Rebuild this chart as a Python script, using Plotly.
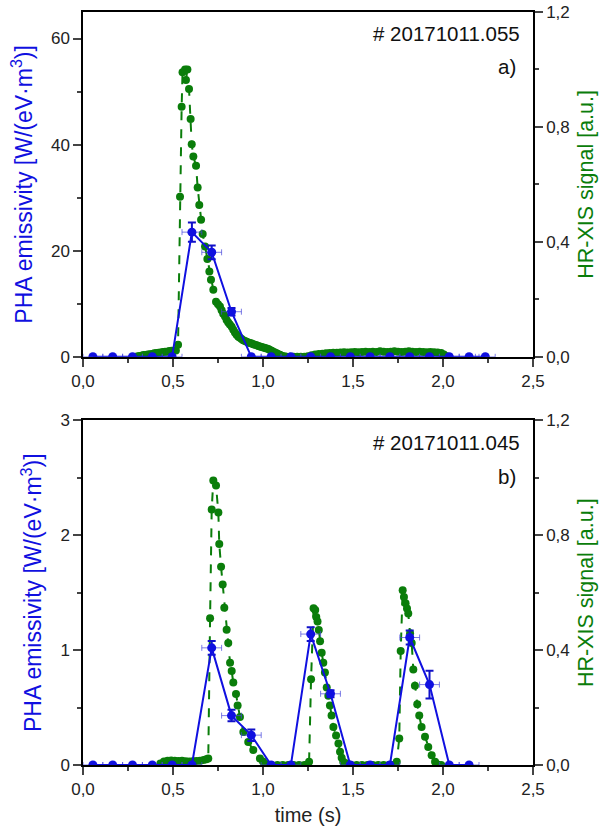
import plotly.graph_objects as go

# ---------------- data: panel a) #20171011.055 ----------------
pha_a_t = [0.055, 0.165, 0.275, 0.385, 0.495, 0.605, 0.715, 0.825, 0.935, 1.045,
           1.155, 1.265, 1.375, 1.485, 1.595, 1.705, 1.815, 1.925, 2.035, 2.145, 2.235]
pha_a_v = [0, 0, 0, 0, 0, 23.5, 19.7, 8.5, 0, 0,
           0, 0, 0, 0, 0, 0, 0, 0, 0, 0, 0]
pha_a_err = [0, 0, 0, 0, 0, 1.8, 1.3, 0.7, 0, 0,
             0, 0, 0, 0, 0, 0, 0, 0, 0, 0, 0]

xis_a_t = [0.300, 0.312, 0.324, 0.336, 0.348, 0.360, 0.372, 0.384, 0.396, 0.408,
           0.420, 0.432, 0.444, 0.456, 0.468, 0.480, 0.492, 0.504, 0.516, 0.528,
           0.539, 0.548, 0.553, 0.567, 0.580, 0.572, 0.589, 0.598, 0.604, 0.613,
           0.628, 0.637, 0.646, 0.656, 0.665, 0.678, 0.691, 0.702, 0.711, 0.724,
           0.739, 0.750, 0.761, 0.770, 0.779, 0.789, 0.798, 0.807, 0.816, 0.826,
           0.835, 0.844, 0.853, 0.863, 0.872, 0.881, 0.890, 0.900, 0.909, 0.918,
           0.928, 0.937, 0.946, 0.955, 0.965, 0.974, 0.983, 0.992, 1.002, 1.011,
           1.020, 1.030, 1.039, 1.048, 1.057, 1.066, 1.076, 1.085, 1.094, 1.103,
           1.113, 1.122, 1.131, 1.150, 1.170, 1.190, 1.210, 1.230, 1.250, 1.270,
           1.290, 1.310, 1.330, 1.350, 1.370, 1.390, 1.410, 1.430, 1.450, 1.470,
           1.490, 1.510, 1.530, 1.550, 1.570, 1.590, 1.610, 1.630, 1.650, 1.670,
           1.690, 1.710, 1.730, 1.750, 1.770, 1.790, 1.810, 1.830, 1.850, 1.870,
           1.890, 1.910, 1.930, 1.950, 1.970, 1.990, 2.005, 2.020]
xis_a_v = [0.001, 0.003, 0.004, 0.006, 0.006, 0.008, 0.009, 0.010, 0.012, 0.013,
           0.014, 0.015, 0.017, 0.018, 0.018, 0.020, 0.021, 0.021, 0.022, 0.042,
           0.557, 0.870, 0.990, 1.000, 1.000, 0.963, 0.932, 0.828, 0.740, 0.697,
           0.665, 0.589, 0.528, 0.477, 0.427, 0.384, 0.340, 0.297, 0.268, 0.233,
           0.192, 0.183, 0.175, 0.162, 0.150, 0.140, 0.128, 0.119, 0.112, 0.105,
           0.094, 0.085, 0.077, 0.070, 0.066, 0.062, 0.058, 0.055, 0.052, 0.050,
           0.048, 0.046, 0.044, 0.042, 0.040, 0.038, 0.036, 0.034, 0.032, 0.031,
           0.029, 0.027, 0.024, 0.021, 0.018, 0.015, 0.012, 0.009, 0.007, 0.004,
           0.002, 0.001, 0.000, 0.000, 0.000, 0.000, 0.000, 0.000, 0.002, 0.005,
           0.008, 0.010, 0.011, 0.012, 0.013, 0.014, 0.014, 0.015, 0.016, 0.015,
           0.016, 0.017, 0.016, 0.017, 0.018, 0.017, 0.018, 0.017, 0.019, 0.018,
           0.017, 0.018, 0.019, 0.018, 0.017, 0.018, 0.019, 0.018, 0.017, 0.018,
           0.017, 0.016, 0.017, 0.016, 0.015, 0.013, 0.008, 0.002]

# ---------------- data: panel b) #20171011.045 ----------------
pha_b_t = [0.055, 0.165, 0.275, 0.385, 0.495, 0.605, 0.715, 0.825, 0.935, 1.045,
           1.155, 1.265, 1.375, 1.485, 1.595, 1.705, 1.815, 1.925, 2.035, 2.145]
pha_b_v = [0, 0, 0, 0, 0, 0, 1.02, 0.43, 0.26, 0,
           0, 1.14, 0.62, 0, 0, 0, 1.11, 0.70, 0, 0]
pha_b_err = [0, 0, 0, 0, 0, 0, 0.06, 0.05, 0.05, 0,
             0, 0.06, 0.03, 0, 0, 0, 0.06, 0.12, 0, 0]

xis_b_t = [0.430, 0.450, 0.470, 0.490, 0.510, 0.530, 0.550, 0.570, 0.590, 0.610,
           0.630, 0.650, 0.670, 0.685, 0.696, 0.706, 0.715, 0.724, 0.739, 0.752,
           0.757, 0.767, 0.776, 0.785, 0.798, 0.807, 0.817, 0.826, 0.835, 0.850,
           0.859, 0.872, 0.891, 0.918, 0.946, 0.983, 1.000, 1.020, 1.048, 1.080,
           1.110, 1.140, 1.170, 1.200, 1.230, 1.245, 1.256, 1.267, 1.281, 1.290,
           1.296, 1.303, 1.310, 1.317, 1.326, 1.335, 1.344, 1.354, 1.363, 1.372,
           1.381, 1.391, 1.406, 1.419, 1.428, 1.437, 1.446, 1.460, 1.474, 1.490,
           1.520, 1.550, 1.580, 1.610, 1.640, 1.670, 1.700, 1.720, 1.743, 1.757,
           1.765, 1.776, 1.783, 1.792, 1.800, 1.807, 1.817, 1.826, 1.835, 1.844,
           1.857, 1.868, 1.881, 1.900, 1.918, 1.937, 1.956, 1.970, 1.990]
xis_b_v = [0.005, 0.012, 0.015, 0.016, 0.015, 0.014, 0.015, 0.013, 0.012, 0.013,
           0.014, 0.015, 0.017, 0.020, 0.023, 0.511, 0.890, 0.991, 0.973, 0.879,
           0.770, 0.690, 0.629, 0.548, 0.471, 0.425, 0.356, 0.327, 0.287, 0.247,
           0.207, 0.167, 0.115, 0.080, 0.052, 0.023, 0.012, 0.003, 0.000, 0.000,
           0.000, 0.000, 0.000, 0.000, 0.000, 0.000, 0.011, 0.299, 0.546, 0.540,
           0.515, 0.500, 0.470, 0.431, 0.391, 0.356, 0.322, 0.270, 0.241, 0.207,
           0.172, 0.132, 0.103, 0.075, 0.046, 0.025, 0.011, 0.006, 0.003, 0.000,
           0.000, 0.000, 0.000, 0.000, 0.000, 0.000, 0.000, 0.000, 0.011, 0.092,
           0.397, 0.609, 0.585, 0.563, 0.545, 0.528, 0.459, 0.425, 0.333, 0.276,
           0.212, 0.172, 0.132, 0.098, 0.063, 0.034, 0.011, 0.002, 0.000]

time_err = 0.055  # horizontal error bar half-width (s)

x_ticks = [0.0, 0.5, 1.0, 1.5, 2.0, 2.5]
x_ticktext = ["0,0", "0,5", "1,0", "1,5", "2,0", "2,5"]
right_ticks = [0.0, 0.4, 0.8, 1.2]
right_ticktext = ["0,0", "0,4", "0,8", "1,2"]

BLUE = "#1010e0"
GREEN = "#0a7d0a"
FONT = "Liberation Sans, Arial, sans-serif"

fig = go.Figure()


def add_panel(xa, ygreen, yblue, t_pha, v_pha, e_pha, t_xis, v_xis):
    fig.add_trace(go.Scatter(
        x=t_xis, y=v_xis, xaxis=xa, yaxis=ygreen, mode="lines+markers",
        line=dict(color=GREEN, width=2, dash="dash"),
        marker=dict(color=GREEN, size=8), showlegend=False))
    fig.add_trace(go.Scatter(
        x=t_pha, y=v_pha, xaxis=xa, yaxis=yblue, mode="lines+markers",
        line=dict(color=BLUE, width=2),
        marker=dict(color=BLUE, size=9),
        error_y=dict(type="data", array=e_pha, color="#1010c8", thickness=2, width=4),
        error_x=dict(type="constant", value=time_err, color="rgba(70,70,220,0.7)",
                     thickness=1, width=3),
        showlegend=False))


add_panel("x", "y", "y2", pha_a_t, pha_a_v, pha_a_err, xis_a_t, xis_a_v)
add_panel("x2", "y3", "y4", pha_b_t, pha_b_v, pha_b_err, xis_b_t, xis_b_v)

top_dom = [0.5421, 1.0]
bot_dom = [0.0, 0.4576]

tickfont = dict(family=FONT, size=17, color="#222")
xcommon = dict(range=[0, 2.5], tickvals=x_ticks, ticktext=x_ticktext, ticks="outside",
               ticklen=8, tickwidth=1.5, showline=True, linecolor="black", linewidth=1.5,
               mirror=True, showgrid=False, zeroline=False, tickfont=tickfont, automargin=False,
               minor=dict(ticks="outside", ticklen=4, dtick=0.25, tick0=0, showgrid=False))
ycommon = dict(ticks="outside", ticklen=8, tickwidth=1.5, showline=True, linecolor="black",
               linewidth=1.5, showgrid=False, zeroline=False, tickfont=tickfont, automargin=False)

left_title = dict(text="PHA emissivity [W/(eV·m<sup>3</sup>)]",
                  font=dict(family=FONT, size=23, color=BLUE), standoff=12)
right_title = dict(text="HR-XIS signal [a.u.]",
                   font=dict(family=FONT, size=21.5, color=GREEN), standoff=9)

fig.update_layout(
    width=608, height=829,
    margin=dict(l=83, r=75, t=12, b=63.5, autoexpand=False),
    plot_bgcolor="white", paper_bgcolor="white",
    font=dict(family=FONT, size=16, color="#222"),
    xaxis=dict(domain=[0, 1], anchor="y", **xcommon),
    xaxis2=dict(domain=[0, 1], anchor="y3",
                title=dict(text="time (s)", font=dict(family=FONT, size=20, color="#222"), standoff=10),
                **xcommon),
    # green on right (base axis), blue on left (overlay axis, drawn on top)
    yaxis=dict(domain=top_dom, anchor="x", side="right", range=[0, 1.2],
               tickvals=right_ticks, ticktext=right_ticktext,
               minor=dict(ticks="outside", ticklen=4, dtick=0.2, tick0=0),
               title=right_title, **ycommon),
    yaxis2=dict(overlaying="y", anchor="x", side="left", range=[0, 65],
                tickvals=[0, 20, 40, 60],
                minor=dict(ticks="outside", ticklen=4, dtick=10, tick0=0),
                title=left_title, **ycommon),
    yaxis3=dict(domain=bot_dom, anchor="x2", side="right", range=[0, 1.2],
                tickvals=right_ticks, ticktext=right_ticktext,
                minor=dict(ticks="outside", ticklen=4, dtick=0.2, tick0=0),
                title=right_title, **ycommon),
    yaxis4=dict(overlaying="y3", anchor="x2", side="left", range=[0, 3],
                tickvals=[0, 1, 2, 3],
                minor=dict(ticks="outside", ticklen=4, dtick=0.5, tick0=0),
                title=left_title, **ycommon),
)

ann_font = dict(family=FONT, size=20.5, color="#111")
fig.add_annotation(text="# 20171011.055", xref="paper", yref="paper", x=0.9756, y=0.9721,
                   xanchor="right", yanchor="middle", showarrow=False, font=ann_font)
fig.add_annotation(text="a)", xref="paper", yref="paper", x=0.967, y=0.927,
                   xanchor="right", yanchor="middle", showarrow=False, font=ann_font)
fig.add_annotation(text="# 20171011.045", xref="paper", yref="paper", x=0.9756, y=0.428,
                   xanchor="right", yanchor="middle", showarrow=False, font=ann_font)
fig.add_annotation(text="b)", xref="paper", yref="paper", x=0.967, y=0.383,
                   xanchor="right", yanchor="middle", showarrow=False, font=ann_font)

fig.write_html("out.html", config={"displayModeBar": False},
               post_script="document.body.style.margin='0';")
